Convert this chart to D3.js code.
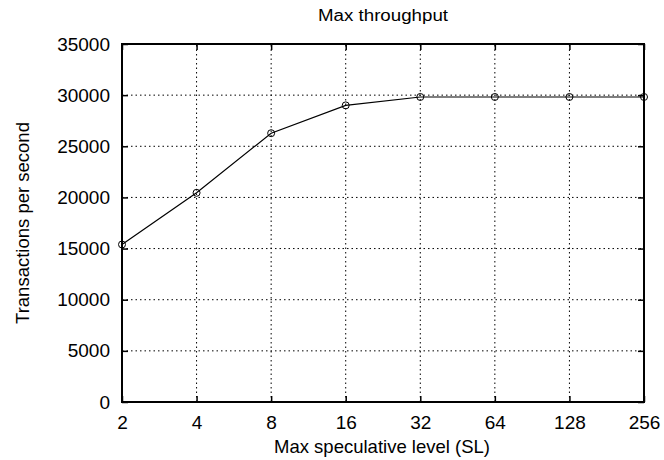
<!DOCTYPE html>
<html>
<head>
<meta charset="utf-8">
<script src="https://cdn.jsdelivr.net/npm/d3@7"></script>
<style>
  html, body { margin: 0; padding: 0; background: #fff; }
  text { font-family: "Liberation Sans", Arial, Helvetica, sans-serif; fill: #000; }
</style>
</head>
<body>
<svg id="chart" width="664" height="460"></svg>
<script>
const categories = ["2", "4", "8", "16", "32", "64", "128", "256"];
const throughput = [15400, 20450, 26280, 29000, 29820, 29820, 29820, 29820];
const yTicks = [0, 5000, 10000, 15000, 20000, 25000, 30000, 35000];
const titleText = "Max throughput";
const xLabel = "Max speculative level (SL)";
const yLabel = "Transactions per second";

const svg = d3.select("#chart");
const m = { left: 122, right: 20, top: 44, bottom: 58 };
const W = 664, H = 460;
const x = d3.scalePoint().domain(categories).range([m.left, W - m.right]);
const y = d3.scaleLinear().domain([0, 35000]).range([H - m.bottom, m.top]);

// grid
const g = svg.append("g");
g.selectAll(".gx").data(categories.slice(1, -1)).enter().append("line")
  .attr("x1", d => x(d)).attr("x2", d => x(d))
  .attr("y1", y(0)).attr("y2", y(35000))
  .attr("stroke", "#000").attr("stroke-width", 1).attr("stroke-dasharray", "1.5,3");
g.selectAll(".gy").data(yTicks.slice(1, -1)).enter().append("line")
  .attr("x1", x(categories[0])).attr("x2", x(categories[categories.length - 1]))
  .attr("y1", d => y(d)).attr("y2", d => y(d))
  .attr("stroke", "#000").attr("stroke-width", 1).attr("stroke-dasharray", "1.5,3");

// axes
const tickLen = 6;
const axB = svg.append("g").attr("transform", `translate(0,${y(0)})`)
  .call(d3.axisBottom(x).tickSize(-tickLen).tickPadding(14));
const axT = svg.append("g").attr("transform", `translate(0,${y(35000)})`)
  .call(d3.axisTop(x).tickSize(-tickLen).tickFormat(""));
const axL = svg.append("g").attr("transform", `translate(${x(categories[0])},0)`)
  .call(d3.axisLeft(y).tickValues(yTicks).tickFormat(d3.format("d")).tickSize(-tickLen).tickPadding(12));
const axR = svg.append("g").attr("transform", `translate(${x(categories[categories.length-1])},0)`)
  .call(d3.axisRight(y).tickValues(yTicks).tickSize(-tickLen).tickFormat(""));
[axB, axT, axL, axR].forEach(a => {
  a.select(".domain").remove();
  a.selectAll(".tick line").attr("stroke", "#000").attr("stroke-width", 1.5);
});
axB.selectAll("text").attr("font-size", 19);
axL.selectAll("text").attr("font-size", 19);

// frame
svg.append("rect")
  .attr("x", x(categories[0])).attr("y", y(35000))
  .attr("width", x(categories[categories.length-1]) - x(categories[0]))
  .attr("height", y(0) - y(35000))
  .attr("fill", "none").attr("stroke", "#000").attr("stroke-width", 2);

// line
const pts = categories.map((c, i) => [c, throughput[i]]);
svg.append("path").datum(pts)
  .attr("fill", "none").attr("stroke", "#000").attr("stroke-width", 1.2)
  .attr("d", d3.line().x(d => x(d[0])).y(d => y(d[1])));
svg.selectAll(".pt").data(pts).enter().append("circle")
  .attr("cx", d => x(d[0])).attr("cy", d => y(d[1])).attr("r", 3.5)
  .attr("fill", "none").attr("stroke", "#000").attr("stroke-width", 1);

// labels
svg.append("text").attr("x", 383).attr("y", 21).attr("text-anchor", "middle")
  .attr("font-size", 16).attr("textLength", 130).attr("lengthAdjust", "spacingAndGlyphs")
  .text(titleText);
svg.append("text").attr("x", 382).attr("y", 453).attr("text-anchor", "middle")
  .attr("font-size", 18.5).text(xLabel);
svg.append("text").attr("transform", `translate(29,${(y(0)+y(35000))/2}) rotate(-90)`)
  .attr("text-anchor", "middle").attr("font-size", 18.5).text(yLabel);
</script>
</body>
</html>
